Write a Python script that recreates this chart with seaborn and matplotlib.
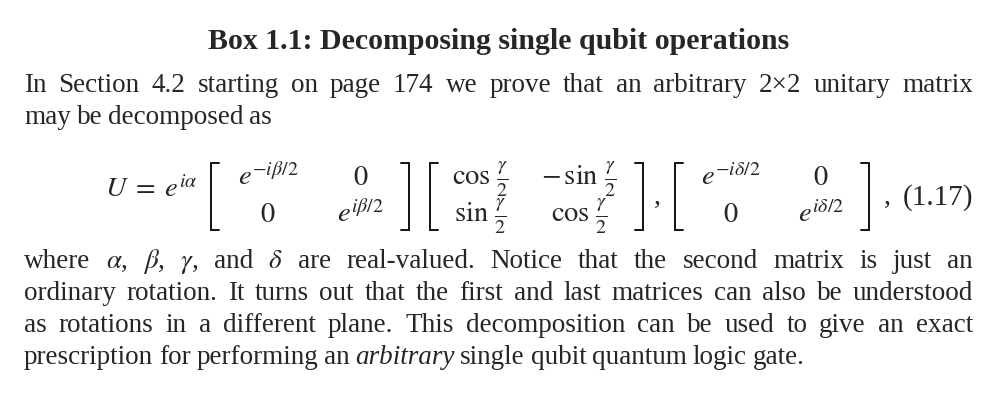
import matplotlib
matplotlib.use("Agg")
import matplotlib.pyplot as plt
import seaborn as sns

sns.set_theme(style="white")
plt.rcParams["font.family"] = ["Liberation Serif", "DejaVu Serif"]
plt.rcParams["mathtext.fontset"] = "stix"

# texto da caixa
title = "Box 1.1: Decomposing single qubit operations"
intro_lines = [
    "In Section 4.2 starting on page 174 we prove that an arbitrary 2×2 unitary matrix",
    "may be decomposed as",
]
intro_justify = [True, False]
outro_lines = [
    r"where $\alpha$, $\beta$, $\gamma$, and $\delta$ are real-valued. Notice that the second matrix is just an",
    "ordinary rotation. It turns out that the first and last matrices can also be understood",
    "as rotations in a different plane. This decomposition can be used to give an exact",
    "prescription for performing an *arbitrary* single qubit quantum logic gate.",
]
outro_justify = [True, True, True, False]

# equacao (1.17)
eq_lhs = r"$U\;=\;e^{i\alpha}$"
matrix_1 = [[r"$e^{-i\beta/2}$", r"$0$"], [r"$0$", r"$e^{i\beta/2}$"]]
matrix_2 = [[r"$\cos\,\frac{\gamma}{2}$", r"$-\,\sin\,\frac{\gamma}{2}$"],
            [r"$\sin\,\frac{\gamma}{2}$", r"$\cos\,\frac{\gamma}{2}$"]]
matrix_3 = [[r"$e^{-i\delta/2}$", r"$0$"], [r"$0$", r"$e^{i\delta/2}$"]]
eq_tag = "(1.17)"

# layout (em pixels)
LEFT, RIGHT = 24, 973
BODY_PT = 19.5
TITLE_PT = 21.5
MATH_PT = 20.5
TAG_PT = 21
TITLE_Y = 49
INTRO_Y = [92, 124]
OUTRO_Y = [268, 300, 332, 364]
ROW_Y = [185, 222]
BRACKET_TOP, BRACKET_BOTTOM = 163, 230
matrices = [
    (matrix_1, 211, 409, [268, 361]),
    (matrix_2, 430, 643, [480, 579]),
    (matrix_3, 675, 869, [731, 821]),
]

fig = plt.figure(figsize=(10.02, 4.12), dpi=100)
ax = fig.add_axes([0, 0, 1, 1])
ax.set_xlim(0, 1002)
ax.set_ylim(412, 0)
ax.axis("off")
renderer = fig.canvas.get_renderer()


def text_width(s, **kw):
    t = ax.text(0, 0, s, fontsize=BODY_PT, **kw)
    w = t.get_window_extent(renderer).width
    t.remove()
    return w


SPACE = 0.85 * (text_width("x x") - text_width("xx"))


def draw_line(y, text, justify):
    words = text.split(" ")
    arts = []
    for w in words:
        style = "italic" if w.startswith("*") else "normal"
        arts.append(ax.text(0, y, w.replace("*", ""), fontsize=BODY_PT,
                            va="baseline", ha="left", style=style))
    widths = [a.get_window_extent(renderer).width for a in arts]
    if justify:
        gap = (RIGHT - LEFT - sum(widths)) / (len(arts) - 1)
    else:
        gap = SPACE
    x = LEFT
    for a, w in zip(arts, widths):
        a.set_x(x)
        x += w + gap


ax.text(499, TITLE_Y, title, fontsize=TITLE_PT, fontweight="bold", ha="center", va="baseline")
for y, line, j in zip(INTRO_Y, intro_lines, intro_justify):
    draw_line(y, line, j)
for y, line, j in zip(OUTRO_Y, outro_lines, outro_justify):
    draw_line(y, line, j)

# lado esquerdo
ax.text(105, 197, eq_lhs, fontsize=MATH_PT, va="baseline", ha="left")


def bracket(x, side):
    d = 8 if side == "left" else -8
    ax.plot([x + d, x, x, x + d], [BRACKET_TOP, BRACKET_TOP, BRACKET_BOTTOM, BRACKET_BOTTOM],
            color="#111111", lw=1.4, solid_joinstyle="miter")


for mat, xl, xr, cols in matrices:
    bracket(xl, "left")
    bracket(xr, "right")
    for r, row in enumerate(mat):
        for c, entry in enumerate(row):
            ax.text(cols[c], ROW_Y[r], entry, fontsize=MATH_PT, ha="center", va="baseline")

ax.text(654, 204, ",", fontsize=MATH_PT, va="baseline", ha="left")
ax.text(884, 204, ",", fontsize=MATH_PT, va="baseline", ha="left")
ax.text(RIGHT, 205, eq_tag, fontsize=TAG_PT, va="baseline", ha="right")

fig.savefig("out.png", dpi=100, facecolor="white")
